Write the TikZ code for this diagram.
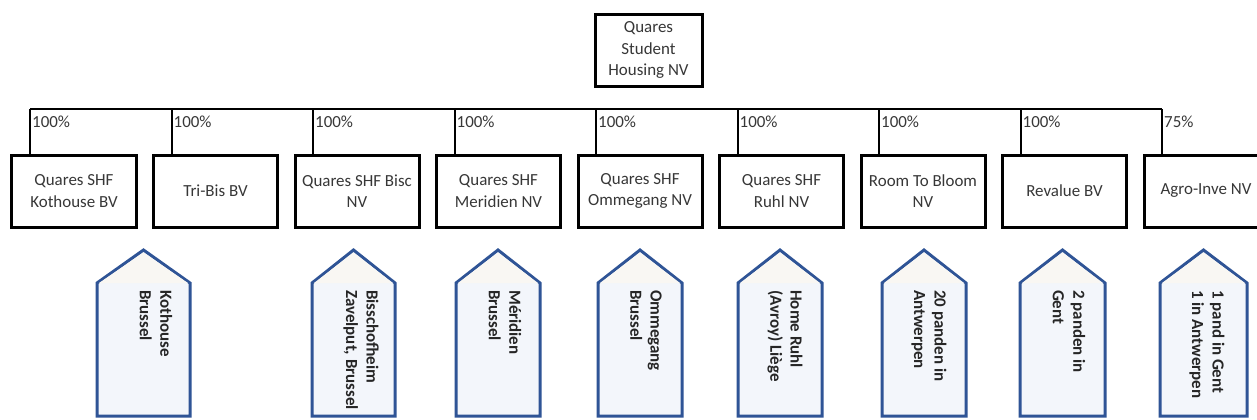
\documentclass[tikz,border=0pt]{standalone}
\usepackage{fontspec}
\setmainfont{Carlito}
\definecolor{houseblue}{RGB}{47,84,150}
\definecolor{housefill}{RGB}{243,246,251}
\definecolor{rooffill}{RGB}{249,247,243}
\definecolor{txt}{RGB}{55,55,55}
\begin{document}
\begin{tikzpicture}[x=1bp,y=-1bp,
  company/.style={draw=black, line width=3bp, minimum width=124bp, minimum height=72bp,
    align=center, inner sep=1bp, text=txt, font=\fontsize{17}{21.5}\selectfont},
  topbox/.style={draw=black, line width=3bp, minimum width=107bp, minimum height=72bp,
    align=center, inner sep=1bp, text=txt, font=\fontsize{17}{21.5}\selectfont},
  link/.style={draw=black, line width=2bp},
  pct/.style={anchor=west, inner sep=0pt, text=txt, font=\fontsize{17}{20}\selectfont},
  house/.style={draw=houseblue, line width=3bp, fill=housefill, line join=miter},
  htext/.style={rotate=-90, anchor=west, align=left, inner sep=0pt, text=black!85,
    font=\bfseries\fontsize{17}{20.5}\selectfont}]
\useasboundingbox (0,0) rectangle (1257,419);
\clip (0,0) rectangle (1257,419);
\fill[white] (0,0) rectangle (1257,419);

% parent
\node[topbox] (top) at (648.5,50) {Quares\\Student\\Housing NV};

% children
\node[company] (c1) at (74,191) {Quares SHF\\Kothouse BV};
\node[company] (c2) at (215.5,191) {Tri-Bis BV};
\node[company] (c3) at (357,191) {Quares SHF Bisc\\NV};
\node[company] (c4) at (498.5,191) {Quares SHF\\Meridien NV};
\node[company] (c5) at (640,191) {Quares SHF\\Ommegang NV};
\node[company] (c6) at (781.5,191) {Quares SHF\\Ruhl NV};
\node[company] (c7) at (923,191) {Room To Bloom\\NV};
\node[company] (c8) at (1064.5,191) {Revalue BV};
\node[company] (c9) at (1206,191) {Agro-Inve NV};

% bar junctions
\foreach \i/\x in {1/30,2/171.5,3/313,4/454.5,5/596,6/737.5,7/879,8/1020.5,9/1162}{
  \coordinate (j\i) at (\x,109);
}
\draw[link] (j1) -- (j9);
\foreach \i in {1,...,9}{
  \draw[link] (j\i) -- (j\i |- c\i.north);
}
\foreach \i in {1,...,8}{
  \node[pct] (p\i) at ([xshift=2bp,yshift=-13bp]j\i) {100\%};
}
\node[pct] (p9) at ([xshift=2bp,yshift=-13bp]j9) {75\%};

% houses
\foreach \xl/\xc/\xr in {97/143.5/190, 312/353.5/395, 456/498/540, 598/640/682,
  738/780/822, 882/924/966, 1020/1062.5/1105, 1160/1203.5/1247}{
  \draw[house] (\xl,416) -- (\xl,283) -- (\xc,250) -- (\xr,283) -- (\xr,416) -- cycle;
  \fill[rooffill] (\xl+2,283) -- (\xc,252.5) -- (\xr-2,283) -- cycle;
}
\node[htext] (h1) at (156,290) {Kothouse\\Brussel};
\node[htext] (h2) at (361,290) {Bisschofheim\\Zavelput, Brussel};
\node[htext] (h3) at (505,290) {Méridien\\Brussel};
\node[htext] (h4) at (646,290) {Ommegang\\Brussel};
\node[htext] (h5) at (785,290) {Home Ruhl\\(Avroy) Liège};
\node[htext] (h6) at (929,290) {20 panden in\\Antwerpen};
\node[htext] (h7) at (1069,290) {2 panden in\\Gent};
\node[htext] (h8) at (1207,290) {1 pand in Gent\\1 in Antwerpen};
\end{tikzpicture}
\end{document}
